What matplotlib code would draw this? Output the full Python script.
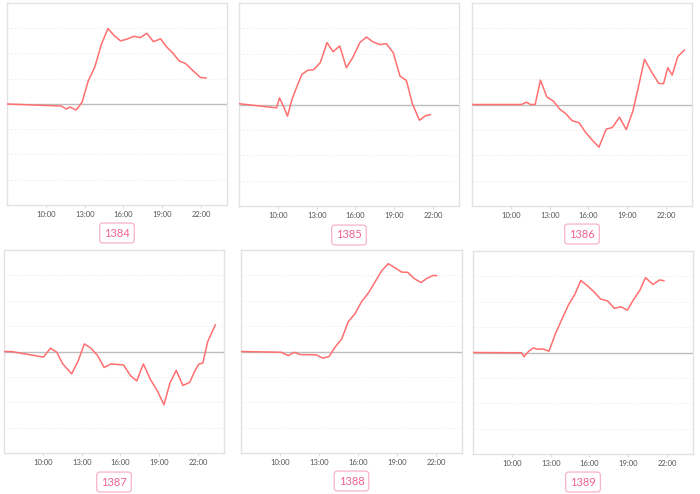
import matplotlib
matplotlib.use("Agg")
import matplotlib.pyplot as plt

plt.rcParams['font.family'] = ['Lato', 'DejaVu Sans']

labels = ["1384", "1385", "1386", "1387", "1388", "1389"]

x1384 = [7.0, 11.2, 11.58, 11.88, 12.34, 12.8, 13.28, 13.79, 14.3, 14.8, 15.26, 15.77, 16.28,
         16.79, 17.3, 17.8, 18.31, 18.87, 19.33, 19.79, 20.3, 20.8, 21.37, 21.95, 22.38]
y1384 = [0, -0.08, -0.2, -0.12, -0.24, 0.07, 0.92, 1.47, 2.37, 2.99, 2.72, 2.5, 2.57,
         2.68, 2.63, 2.8, 2.47, 2.58, 2.26, 2.03, 1.71, 1.6, 1.32, 1.05, 1.03]

x1385 = [7.0, 9.9, 10.13, 10.44, 10.75, 11.09, 11.47, 11.86, 12.33, 12.77, 13.28, 13.8, 14.27,
         14.78, 15.3, 15.79, 16.34, 16.85, 17.34, 17.89, 18.38, 18.92, 19.44, 19.93, 20.4,
         20.94, 21.43, 21.79]
y1385 = [0.03, -0.13, 0.26, -0.07, -0.46, 0.2, 0.7, 1.19, 1.35, 1.37, 1.65, 2.44, 2.08,
         2.31, 1.45, 1.85, 2.44, 2.66, 2.47, 2.36, 2.4, 2.04, 1.12, 0.95, 0.03,
         -0.62, -0.44, -0.4]

x1386 = [7.0, 10.82, 11.21, 11.52, 11.88, 12.29, 12.78, 13.29, 13.78, 14.24, 14.75, 15.27,
         15.78, 16.3, 16.81, 17.37, 17.84, 18.4, 18.92, 19.43, 19.87, 20.33, 20.87, 21.43,
         21.8, 22.13, 22.47, 22.9, 23.41]
y1386 = [0, 0, 0.09, 0, 0, 0.96, 0.3, 0.13, -0.18, -0.36, -0.64, -0.72,
         -1.1, -1.41, -1.68, -0.97, -0.91, -0.5, -0.99, -0.26, 0.72, 1.78, 1.29, 0.83,
         0.82, 1.45, 1.16, 1.89, 2.14]

x1387 = [7.0, 7.56, 10.05, 10.59, 11.08, 11.54, 12.23, 12.74, 13.21, 13.72, 14.23, 14.74,
         15.26, 16.23, 16.79, 17.26, 17.77, 18.33, 18.85, 19.36, 19.82, 20.31, 20.82,
         21.36, 21.72, 22.05, 22.36, 22.74, 23.33]
y1387 = [0, 0, -0.22, 0.13, -0.03, -0.49, -0.88, -0.36, 0.3, 0.13, -0.16, -0.63,
         -0.49, -0.53, -0.96, -1.16, -0.49, -1.12, -1.55, -2.1, -1.25, -0.74, -1.34,
         -1.21, -0.79, -0.5, -0.46, 0.39, 1.05]

x1388 = [7.0, 10.08, 10.64, 11.1, 11.54, 12.77, 13.28, 13.77, 14.23, 14.74, 15.26, 15.77,
         16.28, 16.79, 17.31, 17.82, 18.33, 18.87, 19.36, 19.82, 20.33, 20.85, 21.33,
         21.79, 22.05]
y1388 = [0, -0.03, -0.16, -0.03, -0.12, -0.13, -0.26, -0.2, 0.17, 0.49, 1.18, 1.49,
         1.97, 2.3, 2.74, 3.18, 3.46, 3.29, 3.13, 3.12, 2.87, 2.72, 2.89,
         3.0, 2.99]

x1389 = [7.0, 10.76, 10.94, 11.27, 11.65, 11.98, 12.41, 12.87, 13.38, 13.88, 14.37, 14.87,
         15.33, 15.84, 16.35, 16.85, 17.41, 17.92, 18.43, 18.93, 19.39, 19.9, 20.33,
         20.91, 21.42, 21.75]
y1389 = [0, -0.01, -0.17, 0.03, 0.18, 0.13, 0.14, 0.05, 0.75, 1.32, 1.87, 2.29,
         2.84, 2.63, 2.39, 2.11, 2.03, 1.74, 1.8, 1.67, 2.07, 2.46, 2.95,
         2.68, 2.86, 2.83]

series_x = [x1384, x1385, x1386, x1387, x1388, x1389]
series_y = [y1384, y1385, y1386, y1387, y1388, y1389]

tick_hours = [10, 13, 16, 19, 22]
tick_labels = ["10:00", "13:00", "16:00", "19:00", "22:00"]

W, H = 700, 494
fig = plt.figure(figsize=(7.0, 4.94), dpi=100)

# panel rectangles in pixels: (left, top, right, bottom)
rects = [(7, 3, 227, 205), (239, 3, 459, 206), (472, 3, 692, 206),
         (4, 250, 224, 453), (241, 250, 462, 453), (473, 251, 693, 454)]
label_y = [233, 235, 234, 482, 481, 482]

line_color = "#ff6f6f"
for i in range(6):
    l, t, r, b = rects[i]
    ax = fig.add_axes([l / W, 1 - b / H, (r - l) / W, (b - t) / H])
    ax.set_xlim(7.0, 24.0)
    ax.set_ylim(-4, 4)
    for g in [-3, -2, -1, 1, 2, 3]:
        ax.axhline(g, color="#ececec", lw=0.6, ls=(0, (2, 2)), zorder=1)
    ax.axhline(0, color="#bdbdbd", lw=1.0, zorder=2)
    ax.plot(series_x[i], series_y[i], color=line_color, lw=1.1, zorder=3)
    ax.set_xticks(tick_hours)
    ax.set_xticklabels(tick_labels)
    ax.set_yticks([])
    ax.tick_params(axis='x', length=2, width=0.5, color="#cccccc", labelsize=5.5,
                   labelcolor="#555555", pad=2)
    for s in ax.spines.values():
        s.set_color("#e2e2e2")
        s.set_linewidth(1.0)
    cx = (l + r) / 2 / W
    cy = 1 - label_y[i] / H
    fig.text(cx, cy, labels[i], ha="center", va="center", fontsize=8,
             color="#f06292",
             bbox=dict(boxstyle="round,pad=0.4,rounding_size=0.3", fc="white",
                       ec="#f8b3c8", lw=0.9))

fig.savefig("out.png", dpi=100)
